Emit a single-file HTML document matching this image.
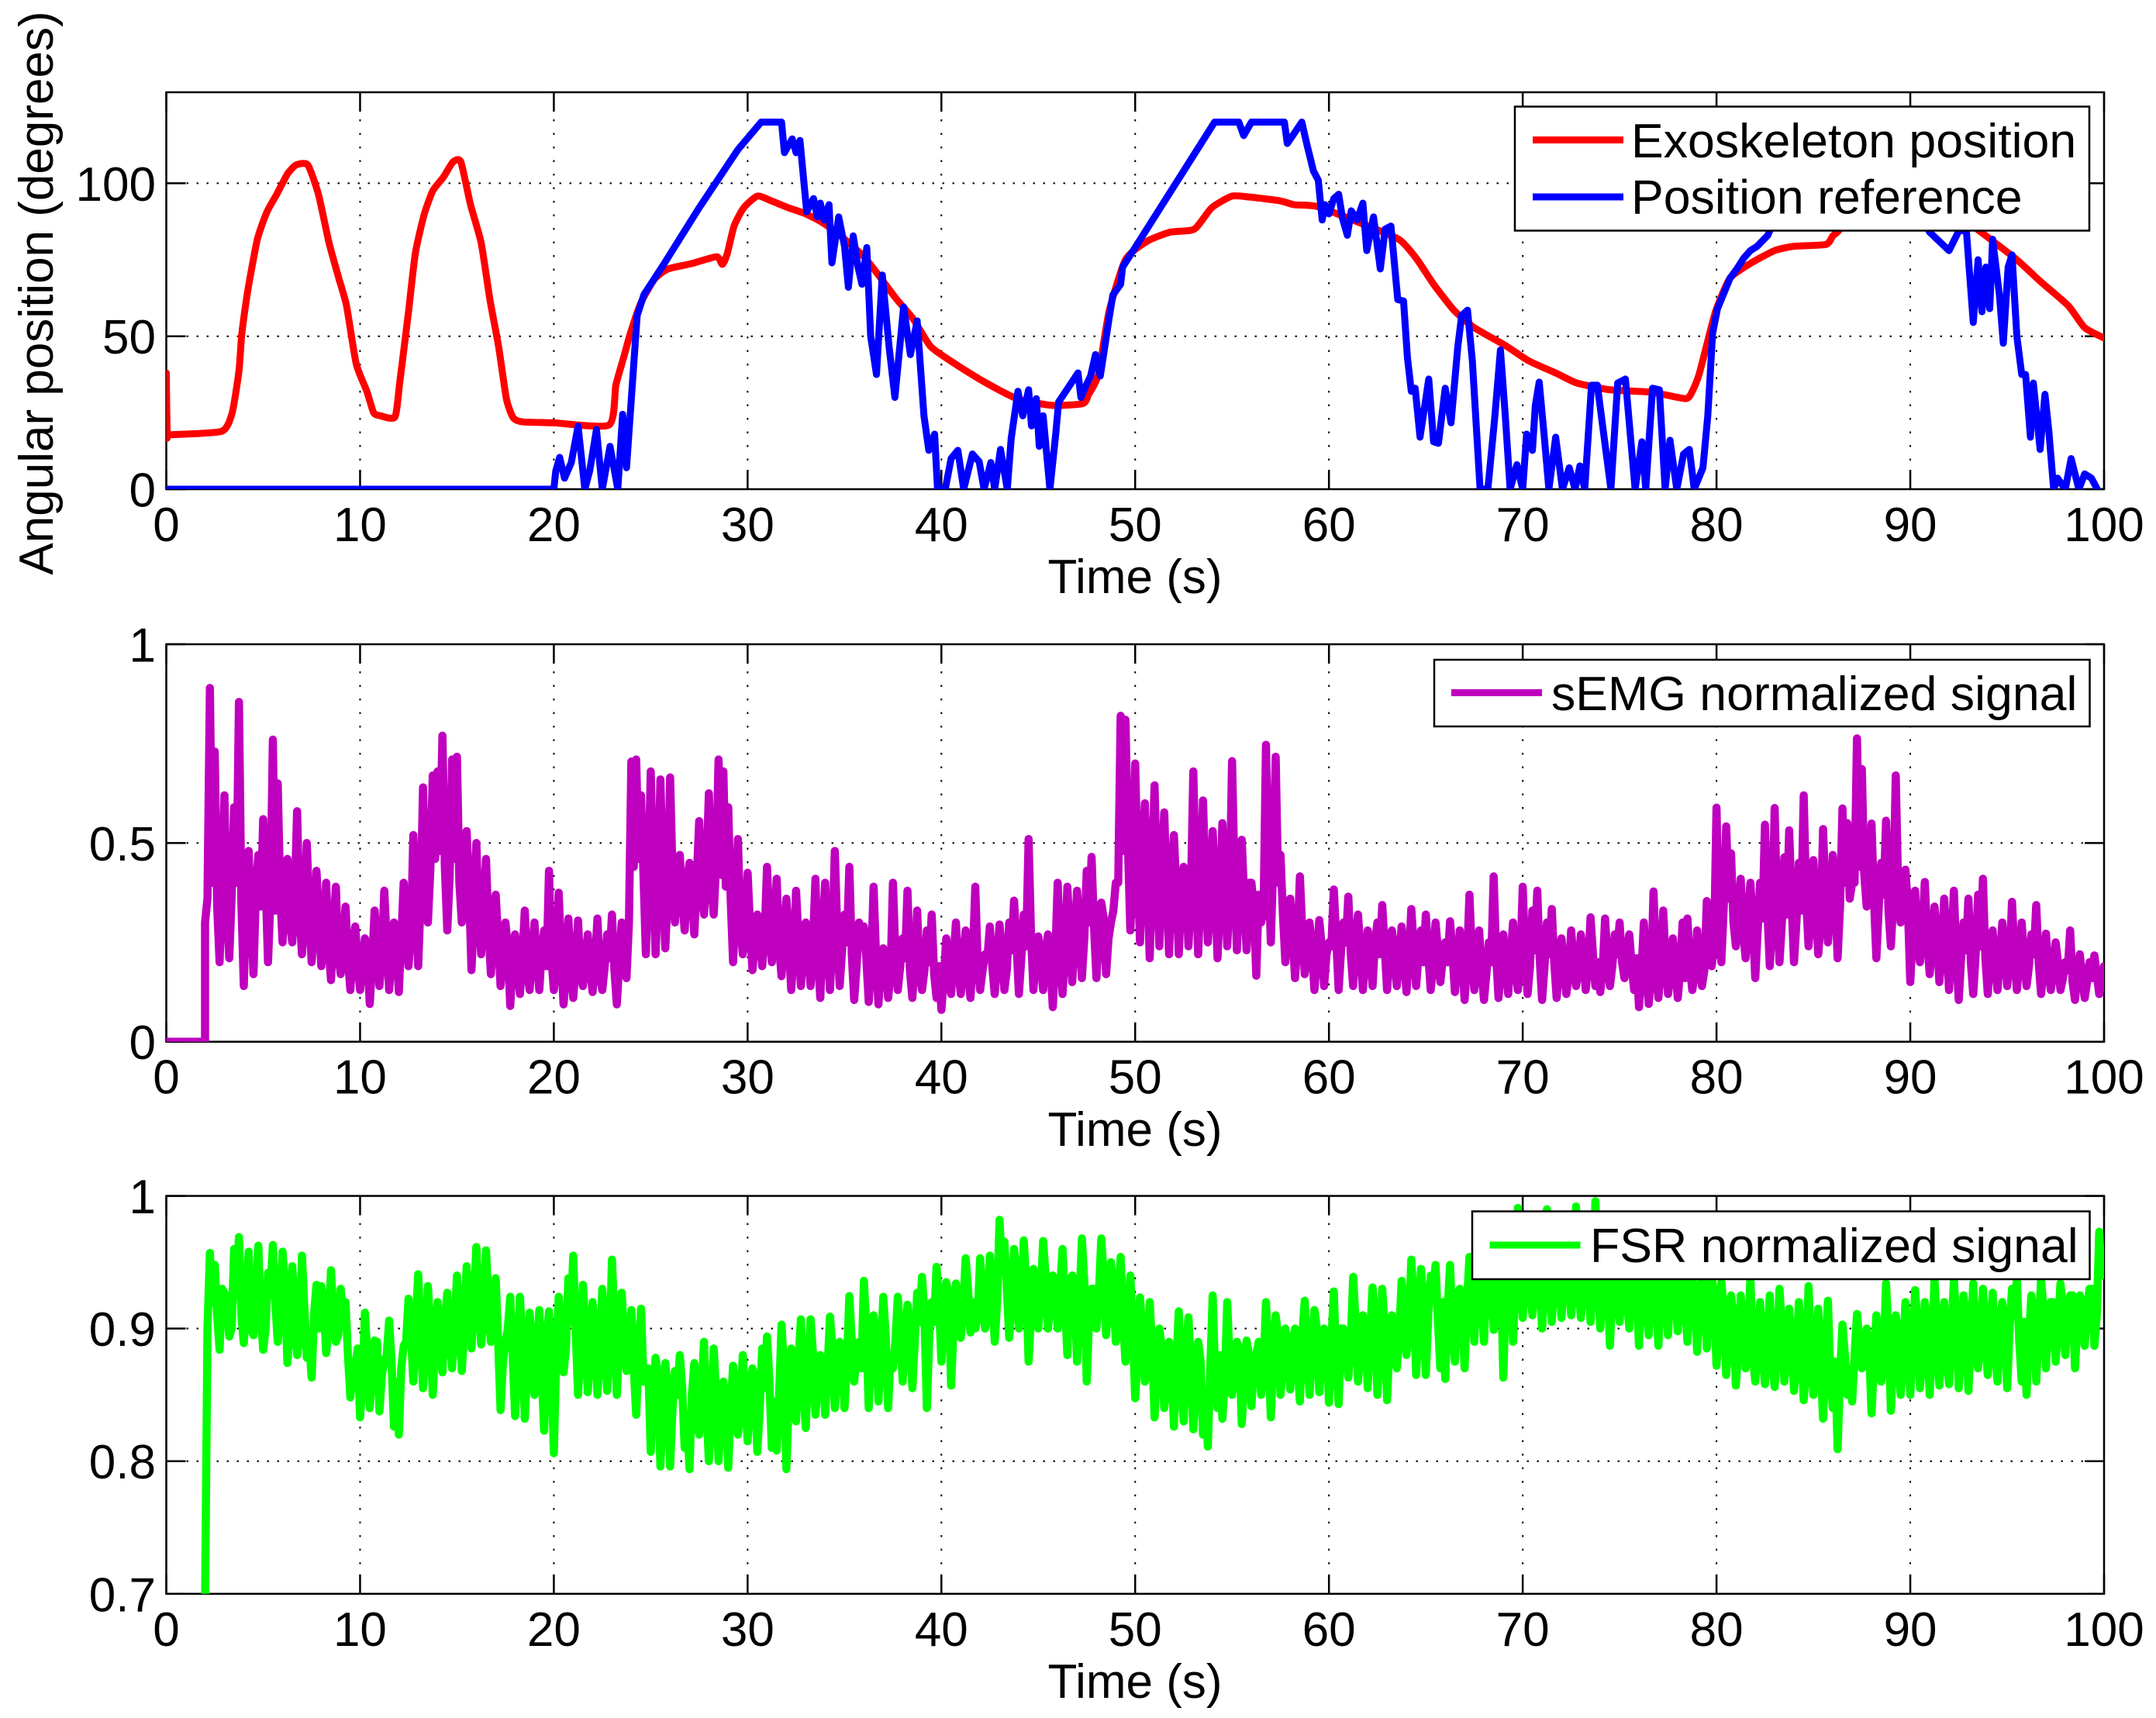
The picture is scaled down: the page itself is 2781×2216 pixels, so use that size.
<!DOCTYPE html>
<html lang="en">
<head>
<meta charset="utf-8">
<title>Exoskeleton position, sEMG and FSR signals</title>
<style>
  html, body { margin: 0; padding: 0; background: #ffffff; }
  svg { display: block; }
  text { font-family: "Liberation Sans", Arial, sans-serif; font-size: 62px; fill: #000000; }
  .legend-text { font-size: 62.6px; }
</style>
</head>
<body>
<svg id="figure" xmlns="http://www.w3.org/2000/svg" width="2781" height="2216" viewBox="0 0 2781 2216">
  <rect x="0" y="0" width="2781" height="2216" fill="#ffffff"/>
  <g id="panel-position"></g>
  <g id="panel-semg"></g>
  <g id="panel-fsr"></g>

  <text transform="translate(68 378) rotate(-90)" text-anchor="middle">Angular position (degrees)</text>
  <text x="1464" y="765" text-anchor="middle">Time (s)</text>
  <text x="1464" y="1478" text-anchor="middle">Time (s)</text>
  <text x="1464" y="2190" text-anchor="middle">Time (s)</text>

  <g>
    <rect x="1954" y="137.5" width="741" height="160" fill="#ffffff" stroke="#000000" stroke-width="2.5"/>
    <line x1="1977" y1="180.5" x2="2094" y2="180.5" stroke="#ff0000" stroke-width="9"/>
    <text class="legend-text" x="2104" y="203">Exoskeleton position</text>
    <line x1="1977" y1="254" x2="2094" y2="254" stroke="#0000ff" stroke-width="9"/>
    <text class="legend-text" x="2104" y="275.5">Position reference</text>
  </g>
  <g>
    <rect x="1850" y="851" width="845.5" height="86" fill="#ffffff" stroke="#000000" stroke-width="2.5"/>
    <line x1="1872" y1="893.5" x2="1989" y2="893.5" stroke="#bf00bf" stroke-width="9"/>
    <text class="legend-text" x="2001" y="916">sEMG normalized signal</text>
  </g>
  <g>
    <rect x="1899" y="1562.5" width="796.5" height="87.5" fill="#ffffff" stroke="#000000" stroke-width="2.5"/>
    <line x1="1921.5" y1="1606" x2="2038.5" y2="1606" stroke="#00ff00" stroke-width="9"/>
    <text class="legend-text" x="2051" y="1628">FSR normalized signal</text>
  </g>
</svg>

<script>
// Shared x axis
const xTickValues = [0, 10, 20, 30, 40, 50, 60, 70, 80, 90, 100];
const xTickLabels = ['0', '10', '20', '30', '40', '50', '60', '70', '80', '90', '100'];

// Y axis ticks
const positionTickValues = [0, 50, 100];
const positionTickLabels = ['0', '50', '100'];
const semgTickValues = [0, 0.5, 1];
const semgTickLabels = ['0', '0.5', '1'];
const fsrTickValues = [0.7, 0.8, 0.9, 1];
const fsrTickLabels = ['0.7', '0.8', '0.9', '1'];

// Exoskeleton position (seconds, degrees)
const exoTimes = [0,0.05,0.2,2.85,3.4,3.75,3.9,4.2,4.7,5.2,5.7,6.25,6.7,7.3,7.85,8.4,8.9,9.3,9.8,10.35,10.7,11.05,11.8,12.05,12.5,12.85,13.3,13.75,14.3,14.8,15.2,15.7,16.25,16.7,17.15,17.55,17.9,18.4,20,22.85,23.2,23.6,23.95,24.5,25.2,25.9,27.15,28.4,28.7,28.95,29.3,29.8,30.5,31.2,32.1,33,33.9,34.8,36,36.75,37.65,38.55,39.45,40.7,42.15,43.9,45.7,47.3,47.6,48.1,48.65,49.5,50.6,51.8,53.05,53.95,55,55.9,57.45,58.2,59.4,61.5,63.6,64.5,65.4,66.45,67.5,69.1,70.3,71.7,72.8,74.5,76.65,78.4,78.75,79.1,79.65,80,80.7,81.75,83,84,85.65,86,86.3,87,88,89.5,91,92.3,93.55,95.5,96.7,98.15,99,100];
const exoValues = [38,17.5,17.8,18.9,25,38.7,51,64.7,81.7,90.7,96.4,103,106,106,96.4,80.5,69,60,41,32,25,24,23.6,35,58,77,89.6,97.5,102,107,107,93,80.5,62,46.6,29.6,23.4,22,21.7,21,34,43,51,61,68.7,72,73.8,76,73.5,77,86,92,95.8,94.3,92,90,87,82.8,76,70,62.4,55.6,46.6,41,35.3,29.6,27.4,28,31,37.5,58,75,81,84,85,92,95.8,95.5,94.3,93,92.4,87.3,81.7,75.5,67,58.5,52.8,47,42,38,34.7,32.5,31.7,29.6,32,37.5,51,59,69,73.8,78,79.4,80,82.8,84.5,92,95,95.5,94,90,84.5,75,68,60,52.8,49.4];

// Position reference (seconds, degrees)
const refTimes = [0,20,20.1,20.3,20.55,20.9,21.25,21.6,21.85,22.2,22.5,22.9,23.3,23.55,23.75,24.3,24.65,25.7,27.5,29.5,30.7,31.75,31.9,32.3,32.5,32.7,32.85,33.05,33.4,33.6,33.75,33.95,34.2,34.35,34.7,35,35.2,35.45,35.7,35.9,36.15,36.35,36.65,36.95,37.3,37.6,38.05,38.4,38.75,39.1,39.35,39.65,39.8,40.2,40.5,40.85,41.15,41.6,41.95,42.2,42.55,42.75,43.05,43.4,43.6,43.95,44.2,44.5,44.65,44.9,45.05,45.25,45.6,45.9,46.05,47.05,47.2,47.4,47.7,47.95,48.2,48.5,48.65,48.85,49.25,49.35,49.9,54.1,55.35,55.6,56,57.7,57.85,58.6,58.85,59.2,59.45,59.65,59.8,60,60.25,60.5,60.7,60.95,61.15,61.45,61.75,61.95,62.3,62.65,62.9,63.2,63.55,63.85,64.05,64.25,64.45,64.7,65.15,65.4,65.65,66,66.3,66.65,66.85,67.15,67.4,67.8,68.2,68.55,68.85,69.1,69.35,69.7,70,70.2,70.5,70.65,70.85,71.1,71.35,71.7,72.05,72.4,72.7,72.95,73.2,73.55,73.85,74.2,74.55,74.9,75.3,75.8,76.15,76.35,76.7,77.05,77.35,77.6,77.95,78.3,78.6,78.85,79.3,79.55,79.8,80.05,80.7,81.05,81.4,81.75,82.1,82.65,83,83.7,85.5,88,91,92,92.55,92.9,93.25,93.5,93.7,93.9,94.1,94.25,94.6,94.8,95.05,95.25,95.5,95.75,95.95,96.2,96.35,96.7,96.95,97.15,97.4,97.6,98,98.3,98.7,99,99.35,99.65,100];
const refValues = [0,0,6,10.4,3.6,8.7,20.6,0,6,19.5,0,14,0,24.5,7,56.8,63.6,73.8,92,111,120,120,110,114.5,110,114,104,90.7,95,89,93.5,88,93,74,89,79.4,66,82.8,72.6,67,79,50,37.5,70,46.6,30,59.6,44,55,24,12.7,18,0,0,10,12.7,0,11.5,9,0,8.7,0,13,0,16.5,32,24,32.5,20.7,29.6,14,24,0,18,28.5,38,30,33,37,44,37,49.4,55.7,63.5,67,72.6,78,120,120,115.6,120,120,113,120,113,104,101,88,93,90,95,96.4,88.5,83,91,88,93.5,78,89,72,85,86,62,61.5,43,32,33,17,36,15.5,15,33,21.7,46.6,56.8,58.5,42,0,0,23,45.5,24,0,8,0,18,12.7,27.4,35,18,0,17,0,7,0,7.6,0,34,34,17,0,34.7,36,0,15.5,0,33,32.5,0,16,0,11.5,13,0,7,24,51,59,69,72,75.5,78,79.4,83,88.5,100,120,120,84,78,85,84,54.5,75,58,72.6,59,81.7,63.5,47.7,72.6,76.6,50,37.5,37.5,17,34.7,13,31,19,0,3.6,0,10,0,5,3.6,0];

// sEMG normalized signal: flat lead-in, then peak/trough samples every semgStep seconds from semgStart
const semgLeadTimes = [0, 2];
const semgLeadValues = [0, 0];
const semgStart = 2;
const semgStep = 0.25;
const semgValues = [
  .30,.89,.73,.20, .62,.21,.59,.855, .14,.48,.17,.47, .56,.20,.76,.65, .25,.46,.25,.58,
  .22,.50,.20,.43, .19,.40,.155,.39, .17,.34,.13,.29, .13,.26,.095,.33, .14,.38,.13,.30,
  .125,.40,.19,.52, .19,.64,.30,.67, .68,.77,.28,.71, .717,.30,.53,.18, .50,.22,.46,.17,
  .37,.14,.30,.09, .27,.12,.33,.13, .30,.13,.28,.43, .13,.375,.094,.31, .11,.305,.14,.27,
  .125,.31,.13,.27, .32,.094,.30,.16, .705,.71,.62,.22, .68,.22,.66,.235, .665,.30,.47,.28,
  .45,.27,.555,.32, .625,.32,.71,.68, .59,.20,.51,.22, .425,.18,.32,.19, .44,.20,.41,.165,
  .36,.13,.38,.14, .30,.14,.41,.11, .40,.13,.48,.14, .32,.44,.105,.30, .29,.10,.39,.094,
  .235,.11,.40,.13, .26,.38,.11,.33, .13,.28,.32,.11, .08,.26,.12,.30, .12,.28,.11,.39,
  .13,.22,.29,.12, .295,.13,.30,.355, .12,.32,.51,.13, .265,.13,.27,.087, .40,.12,.39,.15,
  .38,.16,.43,.465, .16,.35,.17,.30, .40,.82,.81,.28, .70,.25,.60,.21, .645,.24,.577,.22,
  .52,.22,.44,.24, .68,.22,.607,.25, .53,.21,.55,.24, .706,.23,.508,.23, .40,.166,.30,.747,
  .25,.717,.47,.20, .36,.16,.416,.17, .30,.13,.306,.14, .25,.383,.13,.30, .365,.14,.32,.13,
  .28,.14,.30,.344, .13,.28,.14,.29, .125,.334,.14,.28, .32,.13,.30,.15, .25,.303,.125,.28,
  .105,.37,.13,.28, .105,.25,.416,.11, .27,.12,.30,.13, .39,.12,.33,.38, .105,.30,.334,.11,
  .26,.12,.28,.14, .27,.13,.313,.14, .125,.31,.14,.27, .30,.16,.27,.13, .087,.30,.095,.378,
  .11,.33,.12,.26, .11,.30,.31,.13, .28,.14,.354,.19, .589,.20,.542,.474, .24,.41,.21,.40,
  .16,.40,.546,.19, .588,.20,.464,.532, .20,.45,.62,.24, .457,.22,.535,.25, .47,.21,.587,.55,
  .40,.763,.686,.34, .549,.21,.45,.556, .24,.67,.30,.433, .15,.38,.20,.402, .17,.34,.15,.36,
  .13,.38,.105,.30, .36,.12,.37,.41, .12,.28,.13,.30, .14,.352,.13,.30, .14,.27,.344,.12,
  .272,.13,.25,.13, .20,.28,.105,.22, .11,.20,.217,.12, .19
];
// sEMG samples lying in the dense core of the band, half a step after each sample above
const semgCoreValues = [
  .36,.40,.34,.38, .33,.37,.40,.35, .36,.32,.38,.34, .40,.36,.33,.38, .35,.31,.36,.33,
  .30,.34,.28,.31, .27,.24,.28,.22, .25,.21,.23,.20, .19,.22,.20,.24, .22,.25,.21,.24,
  .26,.30,.28,.33, .36,.40,.43,.46, .48,.44,.42,.46, .40,.36,.38,.33, .31,.34,.29,.27,
  .26,.22,.24,.20, .19,.21,.18,.22, .20,.23,.19,.21, .18,.22,.17,.20, .19,.17,.21,.18,
  .20,.17,.19,.21, .18,.20,.22,.30, .44,.46,.42,.40, .43,.38,.41,.37, .42,.39,.36,.40,
  .37,.41,.38,.43, .40,.45,.42,.39, .36,.33,.30,.27, .29,.25,.28,.26, .30,.27,.24,.26,
  .25,.22,.26,.24, .22,.25,.21,.27, .24,.26,.28,.23, .25,.22,.19,.24, .21,.19,.22,.18,
  .20,.17,.22,.19, .21,.18,.20,.17, .18,.20,.17,.19, .16,.19,.21,.18, .20,.17,.22,.19,
  .18,.21,.19,.20, .22,.18,.23,.25, .21,.24,.27,.22, .20,.23,.19,.21, .24,.22,.27,.25,
  .28,.26,.30,.29, .27,.31,.26,.33, .40,.48,.50,.42, .44,.46,.41,.43, .40,.44,.38,.42,
  .38,.36,.40,.37, .42,.38,.41,.36, .39,.35,.40,.37, .42,.38,.36,.40, .34,.37,.33,.44,
  .45,.40,.32,.28, .27,.25,.28,.24, .23,.21,.24,.22, .24,.26,.23,.25, .22,.25,.23,.21,
  .23,.25,.22,.24, .21,.23,.20,.22, .21,.24,.22,.20, .22,.19,.23,.21, .20,.22,.19,.21,
  .20,.22,.19,.18, .17,.20,.22,.18, .19,.21,.18,.20, .22,.19,.23,.21, .19,.22,.20,.18,
  .19,.17,.20,.18, .21,.19,.22,.20, .18,.21,.19,.22, .20,.23,.19,.21, .17,.19,.16,.20,
  .18,.20,.17,.19, .18,.16,.19,.17, .20,.18,.22,.24, .30,.34,.36,.30, .32,.28,.31,.29,
  .28,.31,.33,.30, .34,.30,.32,.35, .30,.33,.36,.32, .34,.30,.36,.33, .38,.34,.40,.36,
  .40,.44,.42,.38, .36,.34,.37,.33, .36,.38,.32,.34, .27,.25,.28,.26, .24,.27,.23,.25,
  .24,.22,.21,.23, .20,.22,.24,.21, .22,.19,.21,.23, .20,.22,.20,.21, .19,.22,.20,.18,
  .19,.17,.20,.16, .18,.15,.17,.16, .15,.16,.17,.15
];

// FSR normalized signal: peak/trough samples every fsrStep seconds from fsrStart
const fsrStart = 2;
const fsrStep = 0.25;
const fsrValues = [
  .69,.957,.948,.884, .927,.894,.96,.969, .889,.958,.895,.9625, .884,.942,.963,.89, .958,.874,.947,.88,
  .955,.878,.863,.933, .932,.8815,.944,.89, .93,.92,.848,.87, .833,.912,.84,.891, .8375,.875,.906,.826,
  .82,.887,.9225,.86, .941,.855,.932,.85, .92,.867,.927,.87, .94,.868,.947,.885, .9615,.888,.959,.89,
  .938,.8385,.89,.924, .834,.924,.832,.912, .85,.914,.823,.913, .806,.924,.867,.938, .955,.85,.933,.852,
  .92,.85,.93,.853, .952,.85,.927,.868, .914,.835,.915,.86, .807,.878,.796,.874, .796,.868,.88,.81,
  .794,.874,.82,.89, .80,.885,.80,.86, .795,.872,.82,.88, .815,.87,.807,.885, .894,.81,.808,.903,
  .794,.885,.83,.907, .825,.907,.835,.88, .835,.909,.84,.89, .84,.9245,.86,.89, .936,.84,.91,.845,
  .924,.84,.87,.924, .86,.918,.855,.927, .939,.84,.92,.9465, .875,.935,.857,.934, .893,.953,.897,.90,
  .953,.90,.955,.89, .982,.9655,.893,.96, .90,.9665,.875,.945, .90,.966,.90,.94, .90,.96,.88,.94,
  .875,.968,.86,.93, .90,.968,.895,.95, .89,.954,.875,.94, .8475,.9235,.86,.92, .833,.90,.84,.89,
  .826,.913,.83,.9085, .824,.89,.82,.811, .925,.84,.832,.92, .85,.89,.828,.891, .8415,.88,.85,.92,
  .833,.91,.85,.90, .854,.90,.845,.921, .85,.914,.852,.90, .844,.928,.843,.90, .863,.939,.86,.91,
  .855,.931,.85,.93, .846,.91,.87,.936, .88,.952,.865,.945, .865,.94,.948,.87, .862,.948,.875,.93,
  .87,.954,.89,.96, .89,.96,.899,.965, .863,.96,.89,.991, .908,.965,.91,.97, .90,.99,.905,.97,
  .908,.965,.91,.992, .908,.965,.905,.996, .90,.96,.887,.95, .905,.945,.90,.94, .887,.95,.895,.945,
  .887,.94,.895,.945, .898,.94,.89,.94, .8825,.94,.885,.94, .872,.935,.865,.925, .857,.925,.87,.938,
  .86,.92,.858,.925, .856,.93,.86,.915, .853,.92,.846,.932, .85,.915,.832,.921, .84,.809,.903,.85,
  .845,.911,.87,.90, .836,.91,.86,.934, .838,.91,.85,.92, .85,.929,.855,.92, .85,.937,.857,.92,
  .858,.937,.855,.925, .853,.934,.87,.93, .865,.927,.86,.92, .855,.93,.937,.86, .85,.925,.86,.937,
  .87,.92,.875,.934, .88,.925,.87,.925, .887,.93,.887,.973, .95
];
// FSR samples lying in the dense core of the band, half a step after each sample above
const fsrCoreValues = [
  .90,.92,.91,.93, .92,.90,.93,.91, .92,.90,.925,.91, .90,.93,.92,.91, .93,.90,.915,.895,
  .915,.89,.91,.90, .92,.90,.91,.895, .91,.88,.87,.885, .86,.88,.87,.89, .865,.88,.875,.86,
  .87,.89,.895,.905, .895,.885,.90,.89, .885,.905,.895,.90, .91,.90,.915,.92, .925,.91,.92,.905,
  .89,.875,.90,.88, .875,.89,.87,.885, .88,.865,.89,.87, .88,.90,.885,.905, .90,.885,.90,.88,
  .895,.88,.90,.885, .905,.89,.895,.885, .87,.88,.86,.87, .85,.865,.84,.855, .84,.85,.855,.835,
  .85,.835,.855,.84, .83,.85,.835,.845, .84,.855,.84,.85, .845,.86,.84,.855, .86,.845,.85,.87,
  .85,.86,.875,.855, .87,.88,.86,.875, .87,.885,.865,.88, .875,.89,.88,.87, .90,.885,.895,.88,
  .895,.88,.89,.90, .885,.90,.89,.905, .91,.895,.905,.92, .91,.925,.90,.92, .915,.93,.92,.91,
  .925,.91,.93,.92, .945,.93,.92,.94, .92,.935,.91,.93, .925,.94,.92,.93, .93,.92,.935,.925,
  .92,.935,.91,.93, .925,.94,.92,.93, .92,.905,.915,.90, .88,.895,.875,.885, .87,.885,.86,.875,
  .875,.86,.885,.87, .86,.875,.85,.87, .865,.88,.86,.875, .87,.885,.86,.88, .875,.89,.87,.885,
  .88,.895,.875,.885, .89,.875,.895,.88, .885,.90,.88,.895, .89,.875,.90,.885, .89,.905,.885,.90,
  .895,.91,.885,.90, .89,.905,.895,.91, .905,.92,.90,.915, .91,.925,.905,.92, .915,.90,.925,.91,
  .92,.935,.93,.925, .935,.945,.93,.94, .93,.945,.935,.95, .94,.93,.945,.935, .93,.945,.935,.94,
  .935,.945,.93,.94, .93,.945,.935,.94, .925,.94,.93,.935, .93,.925,.94,.93, .935,.92,.93,.925,
  .93,.92,.935,.925, .93,.92,.935,.925, .92,.93,.915,.925, .90,.915,.89,.905, .885,.90,.895,.88,
  .895,.88,.89,.875, .885,.90,.88,.89, .875,.89,.87,.885, .88,.87,.885,.865, .875,.865,.88,.87,
  .88,.89,.875,.885, .875,.89,.88,.895, .88,.895,.875,.89, .885,.90,.88,.895, .885,.90,.89,.88,
  .895,.905,.885,.90, .895,.88,.90,.89, .90,.885,.905,.895, .90,.91,.89,.905, .895,.91,.90,.915,
  .905,.92,.90,.915, .91,.925,.905,.92, .915,.93,.91,.94
];

const SVG_NS = 'http://www.w3.org/2000/svg';
const plotLeft = 214.5;
const plotRight = 2714;
const tickLength = 25;
const lineWidth = 9;
const noiseLineWidth = 10.5;

function make(tag, attrs) {
  const el = document.createElementNS(SVG_NS, tag);
  for (const key in attrs) el.setAttribute(key, attrs[key]);
  return el;
}

function xScale(t) {
  return plotLeft + (t - 0) / (100 - 0) * (plotRight - plotLeft);
}

function sampleTimes(start, step, count) {
  const times = [];
  for (let i = 0; i < count; i++) times.push(start + i * step);
  return times;
}

function interleave(main, core) {
  const merged = [];
  main.forEach(function (value, i) {
    merged.push(value);
    if (i < core.length && i < main.length - 1) merged.push(core[i]);
  });
  return merged;
}

function drawAxes(group, top, bottom, yScale, yValues, yLabels) {
  const width = plotRight - plotLeft;
  const face = make('rect', { x: plotLeft, y: top, width: width, height: bottom - top, fill: '#ffffff' });
  
  
  group.appendChild(face);

  xTickValues.forEach(function (value, i) {
    const x = xScale(value);
    if (value > 0 && value < 100) {
      const grid = make('line', { x1: x, y1: top, x2: x, y2: bottom, stroke: '#000000', 'stroke-width': 2, 'stroke-dasharray': '2.5 15' });
      
      
      group.appendChild(grid);
    }
    const tickBottom = make('line', { x1: x, y1: bottom, x2: x, y2: bottom - tickLength, stroke: '#000000', 'stroke-width': 2.5 });
    
    
    group.appendChild(tickBottom);
    const tickTop = make('line', { x1: x, y1: top, x2: x, y2: top + tickLength, stroke: '#000000', 'stroke-width': 2.5 });
    
    
    group.appendChild(tickTop);
    const label = make('text', { x: x, y: bottom + 67, 'text-anchor': 'middle' });
    
    
    label.textContent = xTickLabels[i];
    group.appendChild(label);
  });

  yValues.forEach(function (value, i) {
    const y = yScale(value);
    const atEdge = Math.abs(y - top) < 1 || Math.abs(y - bottom) < 1;
    if (!atEdge) {
      const grid = make('line', { x1: plotLeft, y1: y, x2: plotRight, y2: y, stroke: '#000000', 'stroke-width': 2, 'stroke-dasharray': '2.5 10.5' });
      
      
      group.appendChild(grid);
    }
    const tickLeft = make('line', { x1: plotLeft, y1: y, x2: plotLeft + tickLength, y2: y, stroke: '#000000', 'stroke-width': 2.5 });
    
    
    group.appendChild(tickLeft);
    const tickRight = make('line', { x1: plotRight, y1: y, x2: plotRight - tickLength, y2: y, stroke: '#000000', 'stroke-width': 2.5 });
    
    
    group.appendChild(tickRight);
    const label = make('text', { x: 201, y: y + 22.5, 'text-anchor': 'end' });
    
    
    label.textContent = yLabels[i];
    group.appendChild(label);
  });

  const frame = make('rect', { x: plotLeft, y: top, width: width, height: bottom - top, fill: 'none', stroke: '#000000', 'stroke-width': 2.5 });
  
  
  group.appendChild(frame);
}

function addClip(id, top, bottom) {
  const clip = make('clipPath', { id: id });
  clip.appendChild(make('rect', { x: plotLeft, y: top, width: plotRight - plotLeft, height: bottom - top }));
  return clip;
}

function pathFrom(times, values, yScale) {
  return times.map(function (t, i) {
    return (i === 0 ? 'M' : 'L') + xScale(t).toFixed(2) + ' ' + yScale(values[i]).toFixed(2);
  }).join(' ');
}

function smoothPathFrom(times, values, yScale) {
  const pts = times.map(function (t, i) { return [xScale(t), yScale(values[i])]; });
  let d = 'M' + pts[0][0].toFixed(2) + ' ' + pts[0][1].toFixed(2);
  for (let i = 0; i < pts.length - 1; i++) {
    const p0 = pts[Math.max(0, i - 1)];
    const p1 = pts[i];
    const p2 = pts[i + 1];
    const p3 = pts[Math.min(pts.length - 1, i + 2)];
    const c1x = p1[0] + (p2[0] - p0[0]) / 10;
    const c1y = p1[1] + (p2[1] - p0[1]) / 10;
    const c2x = p2[0] - (p3[0] - p1[0]) / 10;
    const c2y = p2[1] - (p3[1] - p1[1]) / 10;
    d += ' C' + c1x.toFixed(2) + ' ' + c1y.toFixed(2) + ' ' + c2x.toFixed(2) + ' ' + c2y.toFixed(2) + ' ' + p2[0].toFixed(2) + ' ' + p2[1].toFixed(2);
  }
  return d;
}

function seriesPath(d, color, width, clipId) {
  return make('path', {
    d: d,
    fill: 'none',
    stroke: color,
    'stroke-width': width,
    'stroke-linejoin': 'round',
    'stroke-linecap': 'round',
    'clip-path': 'url(#' + clipId + ')'
  });
}

// Position panel
(function () {
  const group = document.getElementById('panel-position');
  const top = 119, bottom = 631;
  const yScale = function (v) { return bottom - (v - 0) / (129.75 - 0) * (bottom - top); };
  drawAxes(group, top, bottom, yScale, positionTickValues, positionTickLabels);
  group.appendChild(addClip('clip-position', top, bottom));
  const exoLine = seriesPath(smoothPathFrom(exoTimes, exoValues, yScale), '#ff0000', lineWidth, 'clip-position');
  
  
  group.appendChild(exoLine);
  const refLine = seriesPath(pathFrom(refTimes, refValues, yScale), '#0000ff', lineWidth, 'clip-position');
  
  
  group.appendChild(refLine);
})();

// sEMG panel
(function () {
  const group = document.getElementById('panel-semg');
  const top = 831, bottom = 1343.7;
  const yScale = function (v) { return bottom - (v - 0) / (1 - 0) * (bottom - top); };
  drawAxes(group, top, bottom, yScale, semgTickValues, semgTickLabels);
  group.appendChild(addClip('clip-semg', top, bottom));
  const merged = interleave(semgValues, semgCoreValues);
  const times = semgLeadTimes.concat(sampleTimes(semgStart, semgStep / 2, merged.length));
  const values = semgLeadValues.concat(merged);
  const semgLine = seriesPath(pathFrom(times, values, yScale), '#bf00bf', noiseLineWidth, 'clip-semg');
  
  
  group.appendChild(semgLine);
})();

// FSR panel
(function () {
  const group = document.getElementById('panel-fsr');
  const top = 1542.6, bottom = 2055.8;
  const yScale = function (v) { return bottom - (v - 0.7) / (1 - 0.7) * (bottom - top); };
  drawAxes(group, top, bottom, yScale, fsrTickValues, fsrTickLabels);
  group.appendChild(addClip('clip-fsr', top, bottom));
  const merged = interleave(fsrValues, fsrCoreValues);
  const times = sampleTimes(fsrStart, fsrStep / 2, merged.length);
  const fsrLine = seriesPath(pathFrom(times, merged, yScale), '#00ff00', noiseLineWidth, 'clip-fsr');
  
  
  group.appendChild(fsrLine);
})();
</script>
</body>
</html>
